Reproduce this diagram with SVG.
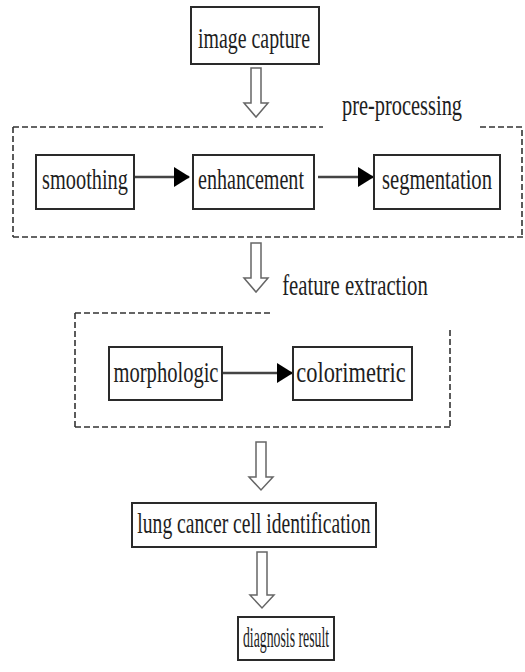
<svg xmlns="http://www.w3.org/2000/svg" width="525" height="672" viewBox="0 0 525 672">
<defs>
<style>
.box{fill:#fff;stroke:#2a2a2a;stroke-width:2}
.t{font-family:"Liberation Serif","Times New Roman",serif;font-size:30px;fill:#1e1e1e;text-anchor:middle}
.dash{fill:none;stroke:#333;stroke-width:1.6;stroke-dasharray:6 3}
.hollow{fill:#fff;stroke:#666;stroke-width:1.5}
.line{stroke:#444;stroke-width:2.5;fill:none}
</style>
<marker id="ah" markerWidth="16" markerHeight="20" refX="15" refY="10" orient="auto" markerUnits="userSpaceOnUse">
<path d="M0,0 L16,10 L0,20 Z" fill="#000"/>
</marker>
</defs>
<rect width="525" height="672" fill="#fff"/>

<g id="groups">
<path class="dash" d="M13,127 H323 M480,127 H525 M13,127 V237 M13,237 H525 M522,130 V237"/>
<text class="t" transform="translate(402,115) scale(0.68,1)">pre-processing</text>
<path class="dash" d="M75,313 H270 M75,313 V427 M75,427 H450 M450,330 V427"/>
<text class="t" transform="translate(355,295) scale(0.692,1)">feature extraction</text>
</g>

<g id="connectors">
<polygon class="hollow" points="251,68 261,68 261,103 268,103 256,117 244,103 251,103"/>
<polygon class="hollow" points="251,243 261,243 261,278 268,278 256,292 244,278 251,278"/>
<polygon class="hollow" points="256,442 266,442 266,477 273,477 261,490 249,477 256,477"/>
<polygon class="hollow" points="257,552 267,552 267,595 274,595 262,608 250,595 257,595"/>
<line class="line" x1="134" y1="177" x2="189" y2="177" marker-end="url(#ah)"/>
<line class="line" x1="318" y1="177" x2="373" y2="177" marker-end="url(#ah)"/>
<line class="line" x1="222" y1="373" x2="292" y2="373" marker-end="url(#ah)"/>
</g>

<g id="image-capture">
<rect class="box" x="191" y="7" width="128" height="57"/>
<text class="t" transform="translate(254,48) scale(0.663,1)">image capture</text>
</g>
<g id="smoothing">
<rect class="box" x="36" y="155" width="98" height="54"/>
<text class="t" transform="translate(85,189) scale(0.678,1)">smoothing</text>
</g>
<g id="enhancement">
<rect class="box" x="193" y="155" width="121" height="54"/>
<text class="t" transform="translate(251,189) scale(0.67,1)">enhancement</text>
</g>
<g id="segmentation">
<rect class="box" x="374" y="155" width="126" height="54"/>
<text class="t" transform="translate(437,189) scale(0.688,1)">segmentation</text>
</g>
<g id="morphologic">
<rect class="box" x="109" y="347" width="113" height="53"/>
<text class="t" transform="translate(166,382) scale(0.685,1)">morphologic</text>
</g>
<g id="colorimetric">
<rect class="box" x="293" y="347" width="119" height="53"/>
<text class="t" transform="translate(351,382) scale(0.747,1)">colorimetric</text>
</g>
<g id="lung-cancer-cell-identification">
<rect class="box" x="132" y="503" width="244" height="44"/>
<text class="t" transform="translate(254,533) scale(0.653,1)">lung cancer cell identification</text>
</g>
<g id="diagnosis-result">
<rect class="box" x="238" y="617" width="96" height="43"/>
<text class="t" transform="translate(286,647) scale(0.46,1)">diagnosis result</text>
</g>
</svg>
